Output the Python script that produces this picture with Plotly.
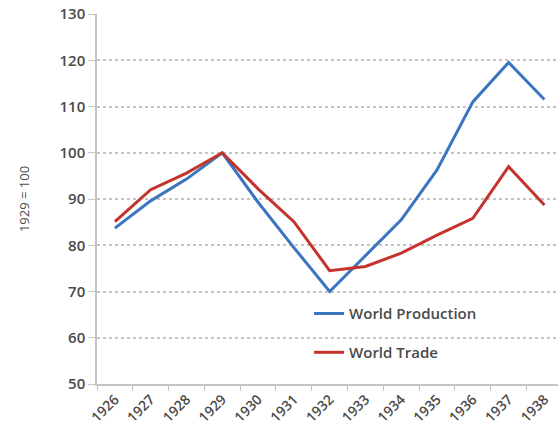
import plotly.graph_objects as go

years = ["1926", "1927", "1928", "1929", "1930", "1931", "1932",
         "1933", "1934", "1935", "1936", "1937", "1938"]
production = [83.7, 89.6, 94.3, 100, 89.3, 79.5, 70.0, 77.8, 85.5, 96.3, 111.0, 119.5, 111.5]
trade = [85.1, 92.0, 95.6, 100, 92.2, 85.1, 74.5, 75.4, 78.3, 82.2, 85.8, 97.0, 88.7]
y_ticks = [50, 60, 70, 80, 90, 100, 110, 120, 130]

font_family = "Open Sans, Lato, sans-serif"
grid_col = "#c4c4c4"
text_col = "#4a4a4a"

fig = go.Figure()
fig.add_trace(go.Scatter(x=years, y=production, mode="lines", name="World Production",
                         line=dict(color="#3b75c0", width=3), legend="legend",
                         showlegend=True))
fig.add_trace(go.Scatter(x=years, y=trade, mode="lines", name="World Trade",
                         line=dict(color="#c4342d", width=3), legend="legend2",
                         showlegend=True))

fig.update_layout(
    width=558, height=436,
    showlegend=True,
    margin=dict(l=97, r=0, t=14, b=52),
    paper_bgcolor="white", plot_bgcolor="white",
    font=dict(family=font_family, color=text_col, size=14),
    legend=dict(x=0.46, y=0.19, xanchor="left", yanchor="middle",
                bgcolor="rgba(0,0,0,0)", font=dict(size=15, color=text_col, weight=600)),
    legend2=dict(x=0.46, y=0.085, xanchor="left", yanchor="middle",
                 bgcolor="rgba(0,0,0,0)", font=dict(size=15, color=text_col, weight=600)),
)
fig.update_xaxes(
    type="category", range=[-0.5, 12.38],
    tickangle=-45, tickson="boundaries", ticks="outside", ticklen=5,
    tickcolor=grid_col, showline=True, linecolor=grid_col, linewidth=1.5,
    showgrid=False, tickfont=dict(size=14, color=text_col, weight=600),
)
fig.update_yaxes(
    range=[50, 130], tickvals=y_ticks, showgrid=True, gridcolor=grid_col,
    griddash="dot", gridwidth=1.5, showline=True, linecolor=grid_col, linewidth=1.5,
    zeroline=False, tickfont=dict(size=15, color=text_col, weight=600),
    title=dict(text="1929 = 100", font=dict(size=13, color=text_col), standoff=27),
    ticks="outside", ticklen=7, tickcolor=grid_col,
)
fig.write_html("out.html")
